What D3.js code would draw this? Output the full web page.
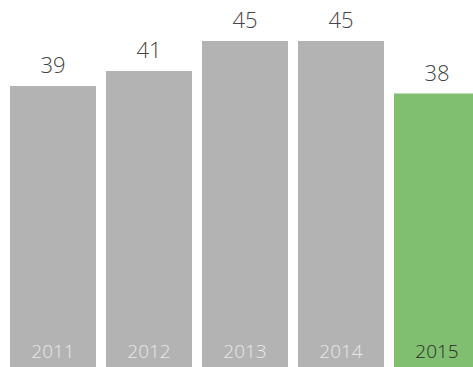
<!DOCTYPE html>
<html>
<head>
<meta charset="utf-8">
<script src="https://cdn.jsdelivr.net/npm/d3@7"></script>
<style>
  html, body { margin: 0; padding: 0; background: #fff; overflow: hidden; }
  svg { display: block; }
  text { font-family: "Open Sans", "DejaVu Sans", sans-serif; font-weight: 300; }
</style>
</head>
<body>
<div id="chart"></div>
<script>
// Yearly values, one bar per year; the latest year is highlighted
const years = ["2011", "2012", "2013", "2014", "2015"];
const values = [39, 41, 45, 45, 38];
const highlightYear = "2015";

const width = 473, height = 367;

const svg = d3.select("#chart").append("svg")
  .attr("width", width)
  .attr("height", height);

// Bars step 96px, 86px wide, starting 10px in; the last one runs off the edge
const x = d3.scaleBand()
  .domain(years)
  .range([10, 10 + 96 * years.length - 10])
  .paddingInner(10 / 96)
  .paddingOuter(0);

// Baseline sits below the visible area
const y = d3.scaleLinear()
  .domain([0, 45])
  .range([378.5, 41]);

const data = years.map((yr, i) => ({ year: yr, value: values[i] }));

const g = svg.append("g");

g.selectAll("rect.bar")
  .data(data)
  .join("rect")
  .attr("class", "bar")
  .attr("x", d => x(d.year))
  .attr("width", x.bandwidth())
  .attr("y", d => y(d.value))
  .attr("height", d => y(0) - y(d.value))
  .attr("fill", d => d.year === highlightYear ? "#7fbf6f" : "#b3b3b3");

// Value labels above each bar
g.selectAll("text.value")
  .data(data)
  .join("text")
  .attr("class", "value")
  .attr("x", d => x(d.year) + x.bandwidth() / 2)
  .attr("y", d => y(d.value) - 13)
  .attr("text-anchor", "middle")
  .attr("font-size", 22)
  .attr("fill", "#444")
  .text(d => d.value);

// Year labels inside the bottom of each bar
g.selectAll("text.year")
  .data(data)
  .join("text")
  .attr("class", "year")
  .attr("x", d => x(d.year) + x.bandwidth() / 2)
  .attr("y", 358)
  .attr("text-anchor", "middle")
  .attr("font-size", 19)
  .attr("fill", d => d.year === highlightYear ? "#2b2b2b" : "#e8e8e8")
  .text(d => d.year);
</script>
</body>
</html>
